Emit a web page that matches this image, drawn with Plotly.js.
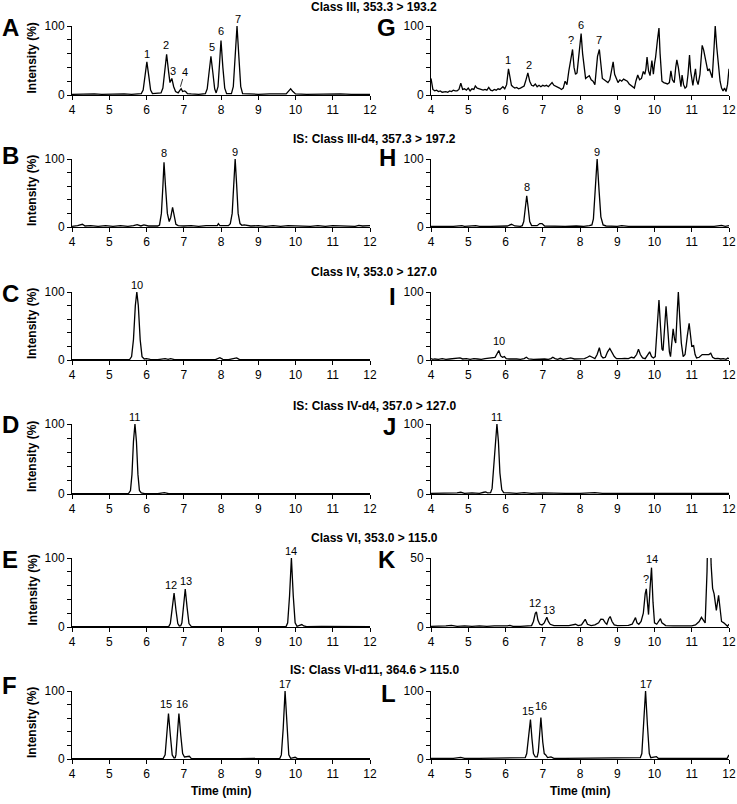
<!DOCTYPE html>
<html><head><meta charset="utf-8">
<script src="https://cdn.plot.ly/plotly-3.0.1.min.js"></script>
<style>html,body{margin:0;padding:0;background:#fff}#chart{width:737px;height:804px}</style>
</head><body><div id="chart"></div>
<script>
// ---------- DATA ----------
const panelLetters = ['A','B','C','D','E','F','G','H','I','J','K','L'];
const rowTitles = [
  'Class III, 353.3 > 193.2',
  'IS: Class III-d4, 357.3 > 197.2',
  'Class IV, 353.0 > 127.0',
  'IS: Class IV-d4, 357.0 > 127.0',
  'Class VI, 353.0 > 115.0',
  'IS: Class VI-d11, 364.6 > 115.0'
];
const xTickVals = [4,5,6,7,8,9,10,11,12];
const yMax = [100,100,100,100,100,100,100,100,100,100,50,100];

// [time (min), intensity (%)]
const traceA = [[4.0,1],[4.2,1.5],[4.4,1],[4.6,1.5],[4.8,1],[5.0,1.5],[5.2,1],[5.4,1.5],[5.6,1],[5.8,1.5],
 [5.86,2],[5.91,7],[5.96,28],[6.01,48],[6.06,28],[6.11,7],[6.16,2],[6.3,2],
 [6.39,3],[6.44,10],[6.49,38],[6.54,59],[6.59,35],[6.63,18],[6.68,24],[6.73,12],[6.78,5],[6.85,3],
 [6.9,7],[6.93,9],[6.97,5],[7.02,6],[7.05,5],[7.1,2],[7.2,1.5],[7.4,1],
 [7.58,2],[7.63,9],[7.68,33],[7.73,56],[7.78,33],[7.83,9],
 [7.87,3],[7.92,12],[7.96,45],[8.0,79],[8.05,40],[8.1,10],[8.15,2],
 [8.28,2],[8.33,12],[8.38,55],[8.43,100],[8.48,55],[8.53,12],[8.58,2],
 [8.7,1.5],[9.0,1],[9.3,1.5],[9.6,1],[9.75,1.5],[9.82,6],[9.87,9],[9.93,5],[10.0,1.5],
 [10.3,1],[10.6,1.5],[10.9,1],[11.2,1.5],[11.5,1],[11.8,1.5],[12.0,1]];
const traceB = [[4.0,1],[4.15,2],[4.28,4],[4.35,1.5],[4.5,2],[4.7,1],[4.9,2],[5.1,1],[5.3,2],[5.5,1],[5.65,2],[5.75,3.5],[5.85,1.5],[5.93,3],[6.05,1.5],[6.2,2],[6.3,1.5],
 [6.35,3],[6.4,20],[6.44,60],[6.47,95],[6.51,60],[6.56,20],[6.61,8],[6.65,14],[6.70,29],[6.74,15],[6.79,4],[6.85,2],
 [7.0,1.5],[7.2,2],[7.4,1],[7.6,2],[7.8,1.5],[7.9,2],[7.93,5],[7.97,2],
 [8.2,2],[8.25,5],[8.3,20],[8.34,62],[8.38,100],[8.42,62],[8.46,20],[8.51,5],[8.56,2.5],[8.62,3],
 [8.8,1.5],[9.0,2],[9.2,1],[9.4,2],[9.6,1],[9.8,2],[10.0,1.5],[10.2,2],[10.4,1],[10.6,2],[10.8,1],[11.0,2],[11.2,1.5],[11.4,2],[11.6,1],[11.7,2.5],[11.8,1.5],[12.0,2]];
const traceC = [[4.0,0.5],[4.5,0.5],[5.0,0.5],[5.4,0.5],[5.55,1],[5.6,5],[5.65,30],[5.7,80],[5.74,100],[5.78,80],[5.83,30],[5.88,5],[5.94,1.5],[6.0,2],[6.1,1],[6.3,0.5],
 [6.5,2],[6.58,1],[6.65,2],[6.75,0.5],[7.0,0.5],[7.5,0.5],[7.75,1.5],[7.85,0.5],[7.97,3.5],[8.05,1],[8.2,0.5],[8.42,3],[8.5,0.5],[9.0,0.5],[9.5,0.5],[9.85,1.2],[10.0,0.5],[10.5,0.5],[11.0,0.5],[11.5,0.5],[12.0,0.5]];
const traceD = [[4.0,0.5],[4.5,0.5],[5.0,0.5],[5.3,0.5],[5.52,1],[5.57,5],[5.61,28],[5.65,75],[5.69,100],[5.73,75],[5.77,28],[5.81,5],[5.86,1.5],[5.95,0.5],
 [6.3,0.5],[6.48,2],[6.6,0.5],[7.0,0.5],[7.5,0.5],[8.0,0.5],[8.4,1.5],[8.5,0.5],[9.0,0.5],[9.5,0.5],[10.0,0.5],[10.5,0.5],[11.0,0.5],[11.5,0.5],[12.0,0.5]];
const traceE = [[4.0,0.5],[4.5,0.5],[5.0,0.8],[5.5,0.5],[6.0,0.8],[6.4,0.5],
 [6.6,1],[6.64,5],[6.69,25],[6.74,49],[6.79,25],[6.84,5],[6.88,1.5],
 [6.92,2],[6.95,6],[7.0,30],[7.04,55],[7.09,28],[7.14,5],[7.2,1],
 [7.5,0.8],[8.0,1],[8.5,0.5],[9.0,0.8],[9.5,0.5],
 [9.75,1],[9.79,6],[9.84,45],[9.89,100],[9.94,45],[9.99,6],[10.04,1],[10.12,2],[10.17,3.5],[10.22,1.5],[10.3,0.5],
 [10.7,0.8],[11.2,0.5],[11.6,0.8],[12.0,0.5]];
const traceF = [[4.0,0.5],[4.5,0.5],[5.0,0.5],[5.5,0.5],[6.0,0.5],[6.3,0.5],
 [6.45,1],[6.5,6],[6.55,35],[6.59,67],[6.64,35],[6.69,6],[6.74,1.5],
 [6.77,2],[6.79,6],[6.83,35],[6.87,67],[6.92,35],[6.97,8],[7.02,3],[7.08,3],[7.15,4],[7.2,1],
 [7.5,0.5],[8.0,0.5],[8.5,0.5],[9.0,0.5],[9.4,0.5],
 [9.58,1],[9.62,6],[9.67,45],[9.72,100],[9.77,45],[9.82,6],[9.87,1],[9.95,2],[9.99,2.5],[10.05,0.5],
 [10.5,0.5],[11.0,0.5],[11.5,0.5],[12.0,0.5]];
const traceG = [[4.0,24],[4.02,18],[4.05,8],[4.1,6],[4.15,7],[4.2,5],[4.25,6],[4.3,4],[4.35,5],[4.4,5],[4.45,4],[4.5,6],[4.55,5],[4.6,7],[4.65,6],[4.7,6],[4.75,8],[4.8,17],[4.85,8],[4.9,9],[4.95,7],
 [5.0,10],[5.05,6],[5.1,9],[5.15,8],[5.19,13],[5.24,10],[5.3,9],[5.35,8],[5.4,7],[5.45,8],[5.5,7],[5.55,11],[5.6,7],[5.65,6],[5.7,8],[5.75,7],[5.8,9],[5.85,8],[5.9,10],[5.93,12],[5.98,9],
 [6.03,15],[6.08,38],[6.12,22],[6.16,14],[6.2,12],[6.25,10],[6.3,11],[6.35,9],[6.4,10],[6.45,11],[6.5,13],[6.55,22],[6.6,32],[6.65,20],[6.7,14],[6.75,13],[6.8,16],[6.85,12],[6.9,14],[6.95,12],
 [7.0,14],[7.05,13],[7.1,14],[7.15,12],[7.2,15],[7.25,18],[7.3,14],[7.35,13],[7.4,12],[7.45,10],[7.5,8],[7.55,10],[7.6,20],[7.65,15],[7.7,35],[7.74,48],[7.8,66],[7.84,40],[7.88,30],[7.92,32],[7.97,55],
 [8.03,89],[8.07,60],[8.11,38],[8.15,24],[8.2,26],[8.25,28],[8.3,22],[8.35,20],[8.4,15],[8.44,35],[8.47,56],[8.52,66],[8.56,40],[8.6,24],[8.65,22],[8.7,20],[8.75,18],[8.8,22],[8.85,38],[8.89,48],[8.93,30],[8.97,24],
 [9.02,18],[9.07,22],[9.12,20],[9.17,23],[9.22,21],[9.27,20],[9.32,16],[9.37,14],[9.42,12],[9.46,10],[9.5,20],[9.55,29],[9.6,22],[9.65,24],[9.7,34],[9.74,30],[9.77,38],[9.8,55],[9.84,35],[9.88,28],[9.93,50],[9.97,30],
 [10.0,45],[10.03,55],[10.08,80],[10.12,97],[10.15,60],[10.2,20],[10.25,18],[10.3,17],[10.35,16],[10.4,18],[10.44,35],[10.48,22],[10.53,18],[10.57,40],[10.6,51],[10.64,40],[10.68,18],[10.71,12],[10.74,29],[10.78,15],[10.82,10],[10.86,12],[10.9,30],[10.94,58],[10.97,35],
 [11.0,20],[11.03,14],[11.06,25],[11.1,38],[11.13,22],[11.17,15],[11.22,30],[11.28,72],[11.32,65],[11.36,55],[11.4,40],[11.43,35],[11.47,38],[11.51,30],[11.55,25],[11.6,70],[11.63,100],[11.67,70],[11.72,40],[11.76,20],[11.8,10],[11.84,6],[11.88,10],[11.92,5],[11.96,15],[12.0,38]];
const traceH = [[4.0,1],[4.3,0.5],[4.6,1],[4.83,2],[4.9,1],[5.2,2],[5.3,1],[5.6,1],[5.9,1],[6.05,1.5],[6.16,4],[6.25,1.5],[6.4,1],
 [6.45,2],[6.49,8],[6.53,30],[6.57,46],[6.61,28],[6.65,8],[6.7,2],
 [6.85,2],[6.92,5],[6.98,5],[7.05,1.5],[7.3,1],[7.6,1],[7.9,1.5],[8.1,1],[8.25,2],
 [8.32,3],[8.36,12],[8.41,60],[8.46,100],[8.51,55],[8.56,15],[8.62,3],[8.7,1.5],
 [9.0,1],[9.12,2],[9.3,1],[9.6,1],[9.9,1.5],[10.2,1],[10.5,1],[10.8,1],[11.0,1.5],[11.3,1],[11.6,1],[11.8,2.5],[11.9,1],[12.0,2]];
const traceI = [[4.0,2],[4.05,1],[4.1,1.5],[4.2,1],[4.3,2],[4.4,1],[4.5,1.5],[4.6,2],[4.7,1.5],[4.78,3],[4.85,1.5],[4.95,2],[5.05,1],[5.15,2],[5.25,1.5],[5.35,1],[5.45,2],[5.55,2.5],[5.65,3],[5.72,4],
 [5.78,10],[5.82,14],[5.87,6],[5.92,4],[5.97,5],[6.02,2],[6.1,1.5],[6.2,2],[6.3,1.5],[6.4,1],[6.5,2],[6.56,4],[6.62,1.5],[6.75,1],[6.85,1.5],[6.95,1],[7.05,1.5],[7.15,1],[7.22,2],[7.27,4],[7.33,2],[7.4,1],[7.47,2.5],
 [7.55,1],[7.65,1.5],[7.75,3],[7.85,1.5],[7.95,2],[8.05,2.5],[8.12,2],[8.2,4],[8.26,6],[8.33,4],[8.4,2],[8.46,8],[8.52,18],[8.57,6],[8.62,3],[8.68,4],[8.74,12],[8.8,17],[8.86,10],[8.92,5],[8.98,2],
 [9.05,1.5],[9.12,2],[9.2,2.5],[9.3,2],[9.38,4],[9.45,3],[9.52,8],[9.57,16],[9.62,8],[9.68,3],[9.75,2],[9.82,8],[9.87,12],[9.92,5],[9.97,3],
 [10.02,5],[10.07,40],[10.12,88],[10.16,50],[10.2,16],[10.23,14],[10.27,40],[10.31,79],[10.35,50],[10.4,12],[10.43,5],[10.47,25],[10.5,46],[10.54,30],[10.57,25],[10.61,70],[10.64,100],[10.68,60],[10.72,25],[10.77,5],
 [10.82,8],[10.88,35],[10.93,54],[10.97,35],[11.0,20],[11.05,21],[11.09,8],[11.13,3],[11.2,4],[11.28,8],[11.33,8],[11.4,7],[11.46,8],[11.51,10],[11.56,4],[11.62,2],[11.7,2.5],[11.78,1.5],[11.85,2],[11.92,1],[11.97,3],[12.0,2]];
const traceJ = [[4.0,1],[4.2,1],[4.35,2],[4.5,1],[4.7,1.5],[4.8,2.5],[4.9,1],[5.1,1.5],[5.3,1],[5.42,2.5],[5.47,3],[5.52,1.5],
 [5.6,2],[5.64,8],[5.68,35],[5.73,80],[5.77,100],[5.81,75],[5.85,30],[5.9,6],[5.95,2],
 [6.1,1.5],[6.3,1],[6.5,2],[6.7,1],[7.0,1.5],[7.3,1],[7.6,1],[8.0,1],[8.4,2],[8.6,1],[9.0,1],[9.5,1],[10.0,1],[10.5,1],[11.0,1.5],[11.4,2],[11.6,1],[12.0,1]];
const traceK = [[4.0,0.5],[4.2,0.5],[4.4,0.8],[4.55,1.2],[4.7,0.5],[4.9,0.8],[5.1,0.5],[5.3,0.8],[5.5,0.5],[5.7,0.8],[5.9,0.5],[6.05,0.8],[6.12,1.2],[6.2,0.5],[6.4,0.5],[6.6,0.8],
 [6.7,1],[6.75,4],[6.8,10],[6.83,11],[6.87,5],[6.92,2],[6.98,1.5],[7.04,3],[7.08,6],[7.11,7],[7.15,4],[7.2,2],[7.3,1],[7.5,0.8],[7.7,1],[7.88,2],[7.95,1],
 [8.04,1.5],[8.1,4],[8.14,5.6],[8.2,2],[8.3,1],[8.4,1.5],[8.5,3],[8.56,5.6],[8.62,5.5],[8.68,3],[8.72,2],[8.77,6],[8.81,7.6],[8.86,4],[8.92,1.5],
 [9.0,1],[9.2,0.8],[9.3,1.2],[9.4,2],[9.45,5],[9.49,6.8],[9.53,3],[9.58,2],[9.64,4],[9.7,10],[9.75,24],[9.78,27.6],[9.81,18],[9.84,9],[9.88,28],[9.92,43],[9.96,18],
 [10.0,3],[10.06,2],[10.12,5],[10.16,6],[10.2,3],[10.3,1],[10.5,0.8],[10.8,1],[11.0,0.8],[11.1,1.5],[11.2,4],[11.26,7],[11.32,4],[11.36,3],
 [11.41,40],[11.46,110],[11.52,45],[11.56,28],[11.6,24],[11.66,12],[11.72,23],[11.76,12],[11.8,4],[11.86,3],[11.92,1.5],[11.96,0.5],[12.0,2]];
const traceL = [[4.0,1],[4.3,1],[4.6,1],[4.8,2.5],[4.9,1],[5.3,1],[5.7,1],[6.1,1],[6.25,1.5],[6.4,1],
 [6.53,2],[6.57,8],[6.62,35],[6.67,58],[6.71,30],[6.75,8],[6.8,3],
 [6.85,3],[6.88,10],[6.91,40],[6.95,61],[7.0,25],[7.04,8],[7.08,6],[7.13,2],[7.22,3],[7.3,1],
 [7.6,1],[8.0,1],[8.35,2],[8.45,1.5],[8.5,2],[8.7,1],[9.0,1],[9.4,2],[9.5,1],
 [9.62,2],[9.66,8],[9.71,55],[9.76,100],[9.81,50],[9.86,8],[9.9,2],[10.0,3],[10.05,3.5],[10.1,1],
 [10.5,1],[11.0,1],[11.5,1.5],[11.8,1],[11.95,1],[12.0,6]];
const traces = [traceA,traceB,traceC,traceD,traceE,traceF,traceG,traceH,traceI,traceJ,traceK,traceL];

// peak labels: [text, time, intensity]
const labelsA = [['1',6.01,49],['2',6.53,62],['3',6.71,25],['5',7.75,59],['6',7.99,82],['7',8.45,100]];
const labelsB = [['8',6.47,98],['9',8.38,100]];
const labelsC = [['10',5.74,100]];
const labelsD = [['11',5.69,100]];
const labelsE = [['12',6.66,51],['13',7.06,56],['14',9.87,100]];
const labelsF = [['15',6.52,70],['16',6.96,70],['17',9.72,100]];
const labelsG = [['1',6.07,41],['2',6.62,34],['?',7.77,70],['6',8.02,92],['7',8.52,70]];
const labelsH = [['8',6.57,49],['9',8.46,100]];
const labelsI = [['10',5.82,18]];
const labelsJ = [['11',5.76,100]];
const labelsK = [['12',6.79,12],['13',7.18,7.3],['?',9.78,30],['14',9.93,44]];
const labelsL = [['15',6.61,60],['16',6.95,68],['17',9.76,100]];
const peakLabels = [labelsA,labelsB,labelsC,labelsD,labelsE,labelsF,labelsG,labelsH,labelsI,labelsJ,labelsK,labelsL];
// leader-line label "4" in panel A: [text, tip time, tip intensity, text time, text intensity]
const leaderA = ['4',6.91,12,7.03,34];

// ---------- LAYOUT ----------
const W = 737, H = 804;
const FONT = 'Liberation Sans, Arial, Helvetica, sans-serif';
const colX = [[72,370],[431,729]];
const rowY = [[26,95],[159,227],[292,360],[424,494],[558,627],[691,759]];
const titleY = [7,139,272,406,538,670];
const letterPos = [[1,28],[1,155],[1,293],[1,425],[1,559],[1,685],[397,28],[397,157],[397,296],[397,426],[397,559],[397,693]];

const px = v => v / W;
const py = v => 1 - v / H;

const data = [];
const layout = {
  width: W, height: H, autosize: false,
  margin: {l:0, r:0, t:0, b:0},
  paper_bgcolor: '#fff', plot_bgcolor: '#fff',
  showlegend: false,
  font: {family: FONT, color: '#000', size: 12},
  annotations: []
};

for (let i = 0; i < 12; i++) {
  const col = i < 6 ? 0 : 1, row = i % 6;
  const n = i + 1;
  const xa = n === 1 ? 'xaxis' : 'xaxis' + n;
  const ya = n === 1 ? 'yaxis' : 'yaxis' + n;
  const ymax = yMax[i];
  const yt = [0,1,2,3,4,5].map(k => k * ymax / 5);
  layout[xa] = {
    domain: [px(colX[col][0]), px(colX[col][1])], anchor: 'y' + n,
    range: [4, 12], tickvals: xTickVals, ticktext: xTickVals.map(String),
    showline: true, linecolor: '#000', linewidth: 1,
    ticks: 'outside', ticklen: 4, tickwidth: 1, tickcolor: '#000',
    showgrid: false, zeroline: false, fixedrange: true,
    tickfont: {family: FONT, size: 12, color: '#000'}
  };
  layout[ya] = {
    domain: [py(rowY[row][1]), py(rowY[row][0])], anchor: 'x' + n,
    range: [0, ymax], tickvals: yt, ticktext: yt.map((v,k) => (k === 0 || k === 5) ? String(v) : ''),
    showline: true, linecolor: '#000', linewidth: 1,
    ticks: 'outside', ticklen: 4, tickwidth: 1, tickcolor: '#000',
    showgrid: false, zeroline: false, fixedrange: true,
    tickfont: {family: FONT, size: 12, color: '#000'}
  };
  const tr = traces[i];
  data.push({
    type: 'scatter', mode: 'lines',
    x: tr.map(p => p[0]), y: tr.map(p => p[1]),
    xaxis: 'x' + n, yaxis: 'y' + n,
    line: {color: '#000', width: 1.3},
    hoverinfo: 'skip'
  });
  peakLabels[i].forEach(l => {
    layout.annotations.push({
      xref: 'x' + n, yref: 'y' + n, x: l[1], y: l[2], text: l[0],
      showarrow: false, xanchor: 'center', yanchor: 'bottom', yshift: 0, borderpad: 0,
      font: {family: FONT, size: 11, color: '#000000'}
    });
  });
  // panel letter
  layout.annotations.push({
    xref: 'paper', yref: 'paper', x: px(letterPos[i][0]), y: py(letterPos[i][1]),
    text: '<b>' + panelLetters[i] + '</b>', showarrow: false, borderpad: 0,
    xanchor: col === 0 ? 'left' : 'right', yanchor: 'middle',
    font: {family: FONT, size: 24, color: '#000'}
  });
  if (col === 0) {
    layout.annotations.push({
      xref: 'paper', yref: 'paper', x: px(32), y: py((rowY[row][0] + rowY[row][1]) / 2 - 3),
      text: '<b>Intensity (%)</b>', textangle: -90, showarrow: false,
      xanchor: 'center', yanchor: 'middle',
      font: {family: FONT, size: 12, color: '#000'}
    });
  }
  if (row === 5) {
    layout.annotations.push({
      xref: 'paper', yref: 'paper', x: px((colX[col][0] + colX[col][1]) / 2), y: py(791),
      text: '<b>Time (min)</b>', showarrow: false, xanchor: 'center', yanchor: 'middle',
      font: {family: FONT, size: 12, color: '#000'}
    });
  }
}
rowTitles.forEach((t, r) => {
  layout.annotations.push({
    xref: 'paper', yref: 'paper', x: px(374), y: py(titleY[r]),
    text: '<b>' + t + '</b>', showarrow: false, xanchor: 'center', yanchor: 'middle', borderpad: 0,
    font: {family: FONT, size: 12, color: '#000'}
  });
});
layout.annotations.push({
  xref: 'x', yref: 'y', x: leaderA[1], y: leaderA[2], text: leaderA[0],
  axref: 'x', ayref: 'y', ax: leaderA[3], ay: leaderA[4],
  showarrow: true, arrowhead: 0, arrowwidth: 0.8, arrowcolor: '#000', standoff: 0,
  font: {family: FONT, size: 11, color: '#000'}
});

Plotly.newPlot('chart', data, layout, {staticPlot: true, displayModeBar: false});
</script>
</body></html>
